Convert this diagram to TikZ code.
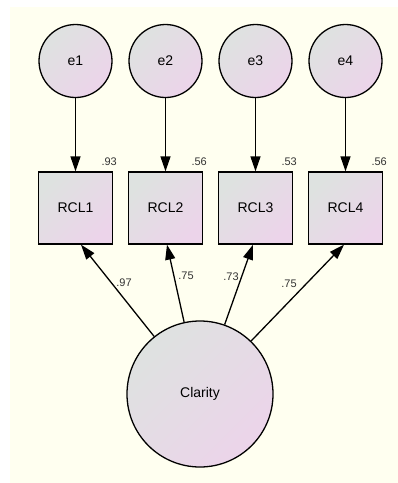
\documentclass[tikz,border=0pt]{standalone}
\usepackage{fontspec}
\setmainfont{Liberation Sans}
\usetikzlibrary{arrows.meta,calc}
\definecolor{paper}{RGB}{255,255,240}
\definecolor{shadeA}{RGB}{222,226,224}
\definecolor{shadeB}{RGB}{236,212,234}
\tikzset{
  semfill/.style={draw=black, line width=1.3pt, shading=axis,
    top color=shadeA, bottom color=shadeB, shading angle=45},
  errvar/.style={semfill, circle, minimum size=73pt, inner sep=0pt,
    font=\fontsize{14}{14}\selectfont},
  latent/.style={semfill, circle, minimum size=146pt, inner sep=0pt,
    font=\fontsize{14}{14}\selectfont},
  observed/.style={semfill, rectangle, minimum width=74pt, minimum height=72pt,
    inner sep=0pt, font=\fontsize{14}{14}\selectfont},
  path/.style={draw=black, line width=1.3pt, -{Triangle[length=15pt,width=10pt]}},
  est/.style={font=\fontsize{11}{11}\selectfont, inner sep=0pt, text=black!80}
}
\begin{document}
\begin{tikzpicture}[x=1pt,y=-1pt]
  \fill[white] (0,0) rectangle (398,483);
  \fill[paper] (10,7) rectangle (398,483);
  \useasboundingbox (0,0) rectangle (398,483);

  % error terms
  \node[errvar] (e1) at (75.5,61) {e1};
  \node[errvar] (e2) at (165.5,61) {e2};
  \node[errvar] (e3) at (255.5,61) {e3};
  \node[errvar] (e4) at (345.5,61) {e4};

  % indicators
  \node[observed] (r1) at (75.5,208) {RCL1};
  \node[observed] (r2) at (165.5,208) {RCL2};
  \node[observed] (r3) at (255.5,208) {RCL3};
  \node[observed] (r4) at (345.5,208) {RCL4};

  % latent factor
  \node[latent] (c) at (200,394) {Clarity};

  % squared multiple correlations
  \node[est] (s1) at ($(r1.north east)+(-4,-10)$) {.93};
  \node[est] (s2) at ($(r2.north east)+(-4,-10)$) {.56};
  \node[est] (s3) at ($(r3.north east)+(-4,-10)$) {.53};
  \node[est] (s4) at ($(r4.north east)+(-4,-10)$) {.56};

  % error paths
  \foreach \i in {1,...,4} {
    \draw[path] (e\i) -- (r\i);
  }

  % loading targets on the indicator bottoms
  \coordinate (t1) at ($(r1.south)+(5.5,0)$);
  \coordinate (t2) at ($(r2.south)+(1.5,0)$);
  \coordinate (t3) at ($(r3.south)+(-2.5,0)$);
  \coordinate (t4) at ($(r4.south)+(-1.5,0)$);

  \draw[path] (c) -- (t1);
  \draw[path] (c) -- (t2);
  \draw[path] (c) -- (t3);
  \draw[path] (c) -- (t4);

  % standardized loadings
  \node[est] (l1) at (124,283) {.97};
  \node[est] (l2) at (186,276) {.75};
  \node[est] (l3) at (231,277) {.73};
  \node[est] (l4) at (289,284) {.75};
\end{tikzpicture}
\end{document}
